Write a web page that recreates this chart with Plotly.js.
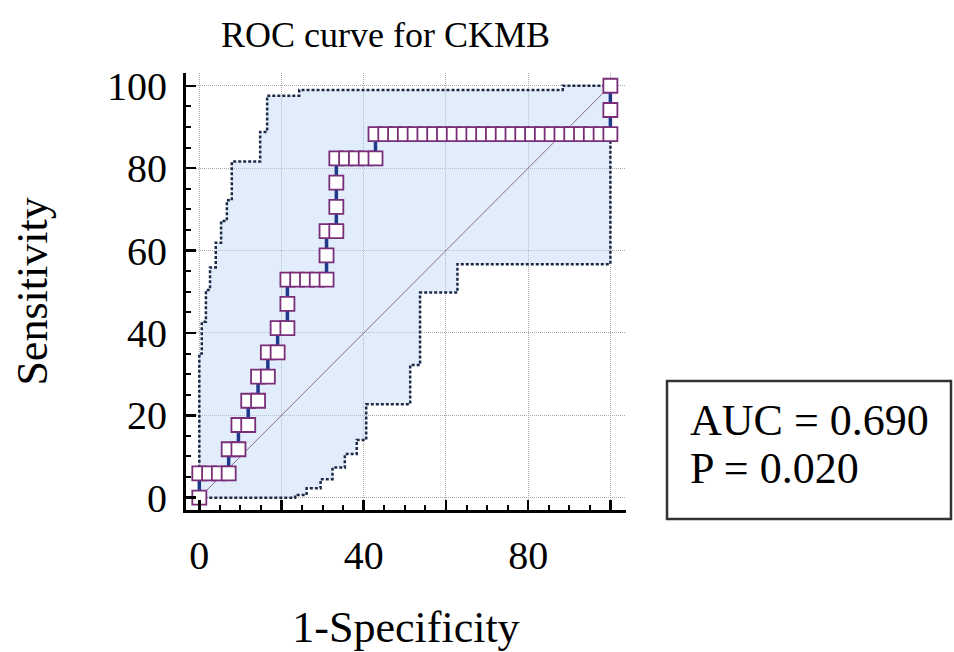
<!DOCTYPE html>
<html>
<head>
<meta charset="utf-8">
<script src="https://cdn.plot.ly/plotly-3.0.1.min.js"></script>
<style>html,body{margin:0;padding:0;background:#fff;}#chart{width:954px;height:652px;}</style>
</head>
<body>
<div id="chart"></div>
<script>
// ROC curve points (1-Specificity %, Sensitivity %)
const rocX = [0, 0, 2.38, 4.76, 7.14, 7.14, 9.52, 9.52, 11.90, 11.90, 14.29, 14.29, 16.67, 16.67, 19.05, 19.05, 21.43, 21.43, 21.43, 23.81, 26.19, 28.57, 30.95, 30.95, 30.95, 33.33, 33.33, 33.33, 33.33, 35.71, 38.10, 40.48, 42.86, 42.86, 45.24, 47.62, 50.00, 52.38, 54.76, 57.14, 59.52, 61.90, 64.29, 66.67, 69.05, 71.43, 73.81, 76.19, 78.57, 80.95, 83.33, 85.71, 88.10, 90.48, 92.86, 95.24, 97.62, 100, 100, 100];
const rocY = [0, 5.88, 5.88, 5.88, 5.88, 11.76, 11.76, 17.65, 17.65, 23.53, 23.53, 29.41, 29.41, 35.29, 35.29, 41.18, 41.18, 47.06, 52.94, 52.94, 52.94, 52.94, 52.94, 58.82, 64.71, 64.71, 70.59, 76.47, 82.35, 82.35, 82.35, 82.35, 82.35, 88.24, 88.24, 88.24, 88.24, 88.24, 88.24, 88.24, 88.24, 88.24, 88.24, 88.24, 88.24, 88.24, 88.24, 88.24, 88.24, 88.24, 88.24, 88.24, 88.24, 88.24, 88.24, 88.24, 88.24, 88.24, 94.12, 100];

// Confidence bounds
const ciUpperX = [0, 0, 0.6, 0.6, 1.6, 1.6, 2.6, 2.6, 4.0, 4.0, 5.3, 5.3, 6.7, 6.7, 7.9, 7.9, 14.8, 14.8, 16.5, 16.5, 24.3, 24.3, 88.4, 88.4, 100];
const ciUpperY = [0, 35.0, 35.0, 42.7, 42.7, 50.4, 50.4, 55.9, 55.9, 61.9, 61.9, 67.2, 67.2, 72.2, 72.2, 81.6, 81.6, 88.8, 88.8, 97.6, 97.6, 99.0, 99.0, 100, 100];
const ciLowerX = [0, 23.3, 23.3, 26.1, 26.1, 29.5, 29.5, 32.4, 32.4, 35.4, 35.4, 38.3, 38.3, 40.6, 40.6, 51.3, 51.3, 53.7, 53.7, 62.8, 62.8, 100, 100];
const ciLowerY = [0, 0, 0.65, 0.65, 2.3, 2.3, 4.5, 4.5, 7.3, 7.3, 10.6, 10.6, 14.0, 14.0, 22.7, 22.7, 32.2, 32.2, 49.8, 49.8, 56.7, 56.7, 100];

// Reference diagonal
const diagX = [0, 100];
const diagY = [0, 100];

// Ticks
const xTickVals = [0, 20, 40, 60, 80, 100];
const xTickText = ['0', '', '40', '', '80', ''];
const yTickVals = [0, 20, 40, 60, 80, 100];
const yTickText = ['0', '20', '40', '60', '80', '100'];

const chartTitle = 'ROC curve for CKMB';
const statLines = ['AUC = 0.690', 'P = 0.020'];

const FONT = 'Liberation Serif';

const fillX = ciUpperX.concat(ciLowerX.slice().reverse());
const fillY = ciUpperY.concat(ciLowerY.slice().reverse());

const traces = [
  {x: fillX, y: fillY, type: 'scatter', mode: 'lines', fill: 'toself',
   fillcolor: 'rgba(192,217,246,0.48)', line: {width: 0}, hoverinfo: 'skip', showlegend: false},
  {x: ciUpperX, y: ciUpperY, type: 'scatter', mode: 'lines',
   line: {color: '#1c2a48', width: 2.5, dash: '3px,2px'}, showlegend: false},
  {x: ciLowerX, y: ciLowerY, type: 'scatter', mode: 'lines',
   line: {color: '#1c2a48', width: 2.5, dash: '3px,2px'}, showlegend: false},
  {x: diagX, y: diagY, type: 'scatter', mode: 'lines',
   line: {color: '#8a6a8a', width: 1}, showlegend: false},
  {x: rocX, y: rocY, type: 'scatter', mode: 'lines+markers', cliponaxis: false,
   line: {color: '#1f3a8a', width: 3.5},
   marker: {symbol: 'square', size: 14, color: '#ffffff', line: {color: '#7a2d78', width: 1.8}},
   showlegend: false}
];

const axisCommon = {
  showline: true, linecolor: '#000', linewidth: 3, mirror: false,
  ticks: 'inside', tickcolor: '#000', tickwidth: 2.5, ticklen: 10,
  showgrid: true, gridcolor: '#a8a8a8', gridwidth: 1, griddash: '1px,1px',
  zeroline: false, tickfont: {family: FONT, size: 40, color: '#000'},
  tickmode: 'array',
  minor: {tickmode: 'linear', tick0: 0, dtick: 5, ticks: 'inside', ticklen: 5, tickwidth: 2, tickcolor: '#000', showgrid: false}
};

const layout = {
  width: 954, height: 652,
  margin: {l: 186, r: 328, t: 73, b: 142},
  paper_bgcolor: '#fff', plot_bgcolor: '#fff',
  font: {family: FONT, color: '#000', size: 36},
  showlegend: false,
  xaxis: Object.assign({}, axisCommon, {
    range: [-3.24, 103.8], tickvals: xTickVals, ticktext: xTickText,
    ticklabelstandoff: 8,
    title: {text: '1-Specificity', font: {family: FONT, size: 44, color: '#000'}, standoff: 38}
  }),
  yaxis: Object.assign({}, axisCommon, {
    range: [-2.99, 103.1], tickvals: yTickVals, ticktext: yTickText,
    ticklabelstandoff: 8,
    title: {text: 'Sensitivity', font: {family: FONT, size: 44, color: '#000'}, standoff: 46}
  }),
  shapes: [
    {type: 'rect', xref: 'paper', yref: 'paper', x0: 1.0932, x1: 1.7386, y0: -0.0206, y1: 0.2952,
     line: {color: '#333', width: 2.5}, fillcolor: 'rgba(0,0,0,0)'}
  ],
  annotations: [
    {xref: 'paper', yref: 'paper', x: 0.4545, y: 1.087, xanchor: 'center', yanchor: 'middle',
     text: chartTitle, showarrow: false, font: {family: FONT, size: 36, color: '#000'}},
    {xref: 'paper', yref: 'paper', x: 1.1409, y: 0.2048, xanchor: 'left', yanchor: 'middle',
     text: statLines[0], showarrow: false, font: {family: FONT, size: 44, color: '#000'}},
    {xref: 'paper', yref: 'paper', x: 1.1409, y: 0.095, xanchor: 'left', yanchor: 'middle',
     text: statLines[1], showarrow: false, font: {family: FONT, size: 44, color: '#000'}}
  ]
};

Plotly.newPlot('chart', traces, layout, {displayModeBar: false, staticPlot: true});
</script>
</body>
</html>
